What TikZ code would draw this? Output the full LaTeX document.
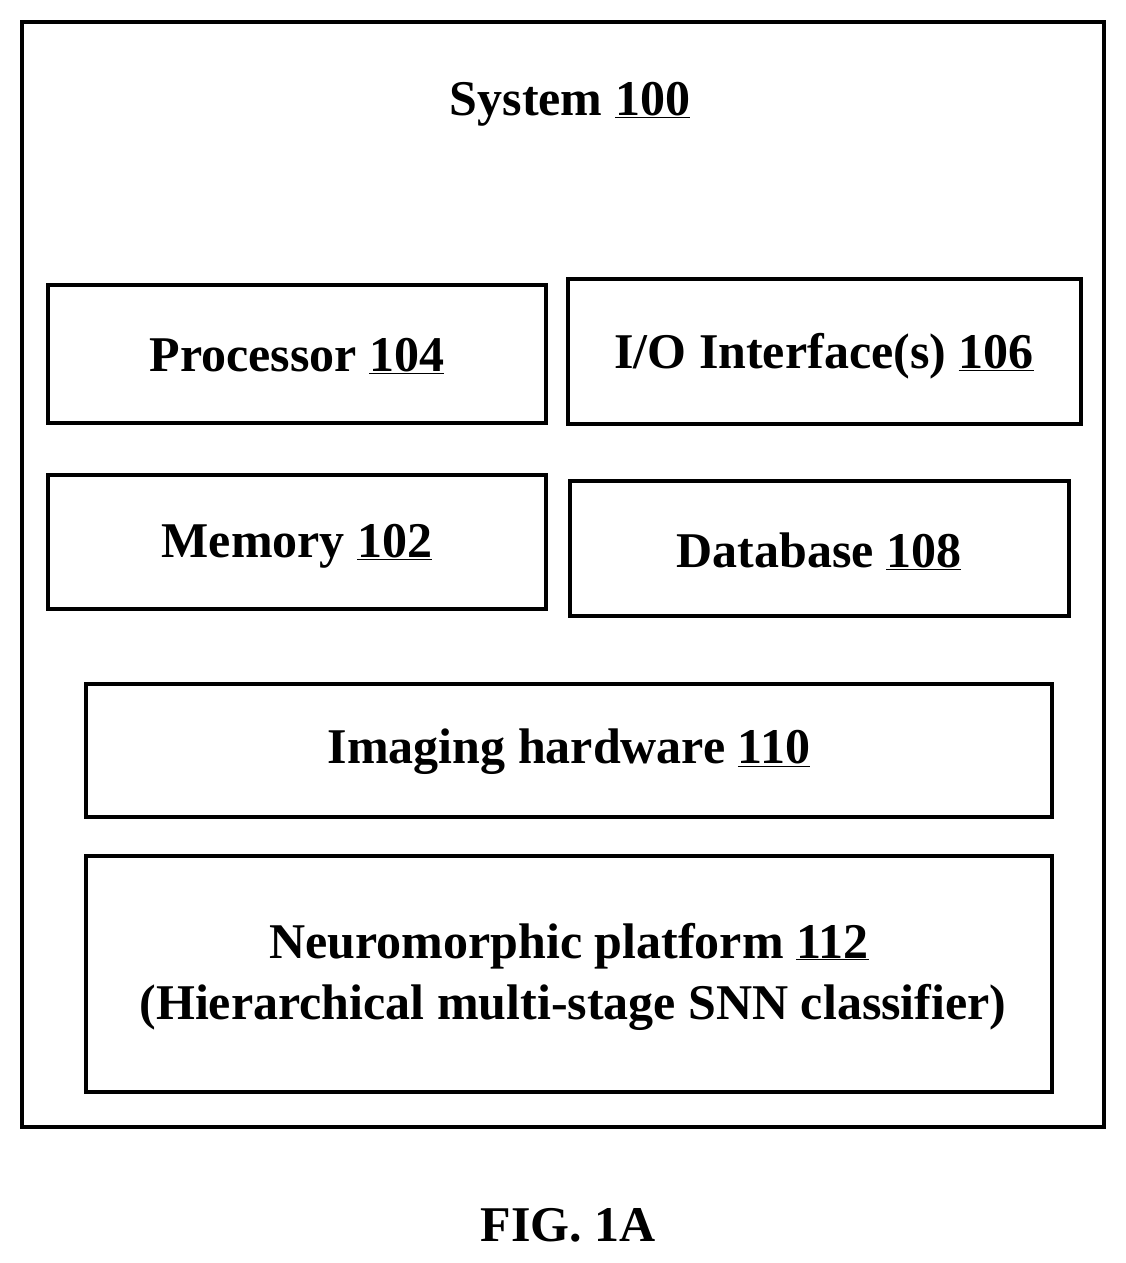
\documentclass[tikz,border=0pt]{standalone}
\usepackage{fontspec}
\setmainfont{Liberation Serif}
\begin{document}
\begin{tikzpicture}[x=1pt,y=-1pt,
 box/.style={draw,line width=4pt},
 lbl/.style={font=\fontsize{50}{60}\selectfont\bfseries,align=center}]
\useasboundingbox (0,0) rectangle (1125,1263);
\draw[box] (22,22) rectangle (1104,1127);
\node[lbl] (sys) at (570,104) {System \underline{100}};
\draw[box] (48,285) rectangle (546,423);
\node[lbl] (p) at (297,356) {Processor \underline{104}};
\draw[box] (568,279) rectangle (1081,424);
\node[lbl] (io) at (824,356) {I/O Interface(s) \underline{106}};
\draw[box] (48,475) rectangle (546,609);
\node[lbl] (m) at (297,546) {Memory \underline{102}};
\draw[box] (570,481) rectangle (1069,616);
\node[lbl] (db) at (819,551) {Database \underline{108}};
\draw[box] (86,684) rectangle (1052,817);
\node[lbl] (im) at (569,752) {Imaging hardware \underline{110}};
\draw[box] (86,856) rectangle (1052,1092);
\node[lbl] (n1) at (569,946) {Neuromorphic platform \underline{112}};
\node[lbl] (n2) at (573,1007) {(Hierarchical multi-stage SNN classifier)};
\node[lbl] (fig) at (568,1225) {FIG. 1A};
\end{tikzpicture}
\end{document}
